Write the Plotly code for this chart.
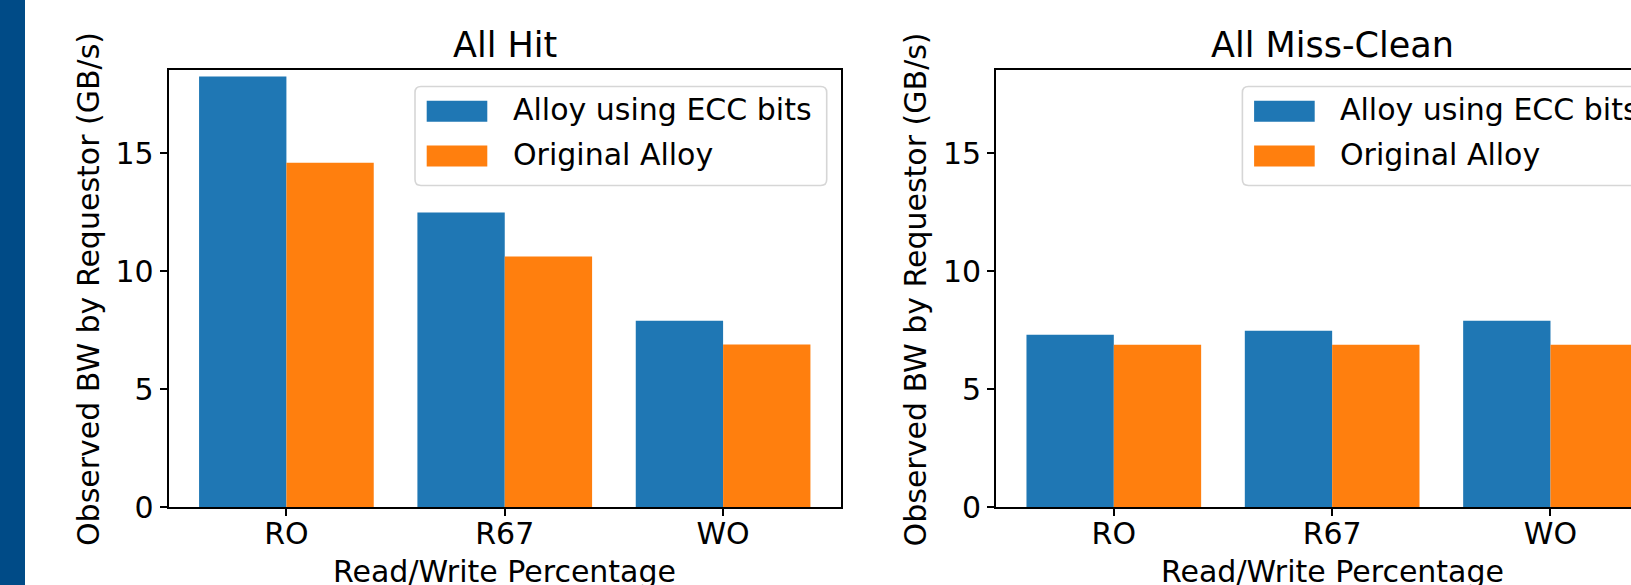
import plotly.graph_objects as go

# ---- data ----
categories = ["RO", "R67", "WO"]
series_names = ["Alloy using ECC bits", "Original Alloy"]
hit_ecc = [18.25, 12.49, 7.91]
hit_orig = [14.60, 10.63, 6.90]
miss_ecc = [7.31, 7.48, 7.91]
miss_orig = [6.89, 6.89, 6.89]
panel_titles = ["All Hit", "All Miss-Clean"]
y_ticks = [0, 5, 10, 15]
y_label = "Observed BW by Requestor (GB/s)"
x_label = "Read/Write Percentage"

# ---- styling ----
W, H = 1631, 585
BLUE, ORANGE = "#1f77b4", "#ff7f0e"
FONT = "DejaVu Sans"
xpos = list(range(len(categories)))

def px(x):
    return x / W

def py(y):
    return (H - y) / H

left_x0, left_x1 = 168.5, 841.0
right_x0 = 995.9
plot_top, plot_bot = 70.0, 507.3
offset = right_x0 - left_x0
xmin, xmax = -0.54, 2.54
scale = (left_x1 - left_x0) / (xmax - xmin)
right_xmax = xmin + (W - right_x0) / scale
ymax = 18.53

fig = go.Figure()
for xa, ya, vals_a, vals_b in [("x", "y", hit_ecc, hit_orig), ("x2", "y2", miss_ecc, miss_orig)]:
    fig.add_trace(go.Bar(x=xpos, y=vals_a, name=series_names[0], marker=dict(color=BLUE, line=dict(width=0)),
                         xaxis=xa, yaxis=ya, showlegend=False))
    fig.add_trace(go.Bar(x=xpos, y=vals_b, name=series_names[1], marker=dict(color=ORANGE, line=dict(width=0)),
                         xaxis=xa, yaxis=ya, showlegend=False))

axis_common = dict(showline=True, linecolor="black", linewidth=1.6, ticks="outside", ticklen=7,
                   tickwidth=1.6, tickcolor="black", showgrid=False, zeroline=False,
                   tickfont=dict(family=FONT, size=30, color="black"))

fig.update_layout(
    width=W, height=H,
    margin=dict(l=0, r=0, t=0, b=0, autoexpand=False),
    paper_bgcolor="white", plot_bgcolor="white",
    barmode="group", bargap=0.2, bargroupgap=0,
    showlegend=False,
    xaxis=dict(domain=[px(left_x0), px(left_x1)], range=[xmin, xmax], anchor="y", mirror=True,
               tickvals=xpos, ticktext=categories, ticklabelstandoff=-8, **axis_common),
    yaxis=dict(domain=[py(plot_bot), py(plot_top)], range=[0, ymax], anchor="x", mirror=True,
               tickvals=y_ticks, **axis_common),
    xaxis2=dict(domain=[px(right_x0), 1.0], range=[xmin, right_xmax], anchor="y2", mirror=True,
                tickvals=xpos, ticktext=categories, ticklabelstandoff=-8, **axis_common),
    yaxis2=dict(domain=[py(plot_bot), py(plot_top)], range=[0, ymax], anchor="x2", mirror=False,
                tickvals=y_ticks, **axis_common),
)

shapes = []
annotations = []

# dark side strip
shapes.append(dict(type="rect", xref="paper", yref="paper", x0=0, x1=px(25), y0=0, y1=1,
                   fillcolor="#004b87", line=dict(width=0), layer="above"))

def rounded_rect_path(x0, y0, x1, y1, r):
    X = lambda v: px(v)
    Y = lambda v: py(v)
    return (f"M {X(x0 + r)},{Y(y0)} L {X(x1 - r)},{Y(y0)} Q {X(x1)},{Y(y0)} {X(x1)},{Y(y0 + r)} "
            f"L {X(x1)},{Y(y1 - r)} Q {X(x1)},{Y(y1)} {X(x1 - r)},{Y(y1)} "
            f"L {X(x0 + r)},{Y(y1)} Q {X(x0)},{Y(y1)} {X(x0)},{Y(y1 - r)} "
            f"L {X(x0)},{Y(y0 + r)} Q {X(x0)},{Y(y0)} {X(x0 + r)},{Y(y0)} Z")

for i, off in enumerate([0.0, offset]):
    cx = (left_x0 + left_x1) / 2 + off
    annotations.append(dict(text=panel_titles[i], xref="paper", yref="paper", x=px(cx), y=py(45.0),
                            xanchor="center", yanchor="middle", showarrow=False,
                            font=dict(family=FONT, size=35, color="black")))
    annotations.append(dict(text=x_label, xref="paper", yref="paper", x=px(cx), y=py(571.5),
                            xanchor="center", yanchor="middle", showarrow=False,
                            font=dict(family=FONT, size=30, color="black")))
    annotations.append(dict(text=y_label, xref="paper", yref="paper", x=px(88.5 + off), y=py(289.5),
                            xanchor="center", yanchor="middle", showarrow=False, textangle=-90,
                            font=dict(family=FONT, size=30, color="black")))
    lx0, lx1, ly0, ly1 = 415.0 + off, 826.7 + off, 86.5, 185.5
    shapes.append(dict(type="path", xref="paper", yref="paper", path=rounded_rect_path(lx0, ly0, lx1, ly1, 6),
                       fillcolor="rgba(255,255,255,0.8)", line=dict(color="#d6d6d6", width=1.6), layer="above"))
    for j, (col, name, sy, ty) in enumerate([(BLUE, series_names[0], 111.3, 109.6),
                                              (ORANGE, series_names[1], 156.0, 154.3)]):
        shapes.append(dict(type="rect", xref="paper", yref="paper",
                           x0=px(426.7 + off), x1=px(487.3 + off), y0=py(sy + 10.5), y1=py(sy - 10.5),
                           fillcolor=col, line=dict(width=0), layer="above"))
        annotations.append(dict(text=name, xref="paper", yref="paper", x=px(510.5 + off), y=py(ty),
                                xanchor="left", yanchor="middle", showarrow=False,
                                font=dict(family=FONT, size=30, color="black")))

fig.update_layout(shapes=shapes, annotations=annotations)
fig.write_html("out.html", config={"displayModeBar": False},
               post_script="document.body.style.margin='0px';document.body.style.overflow='hidden';")
